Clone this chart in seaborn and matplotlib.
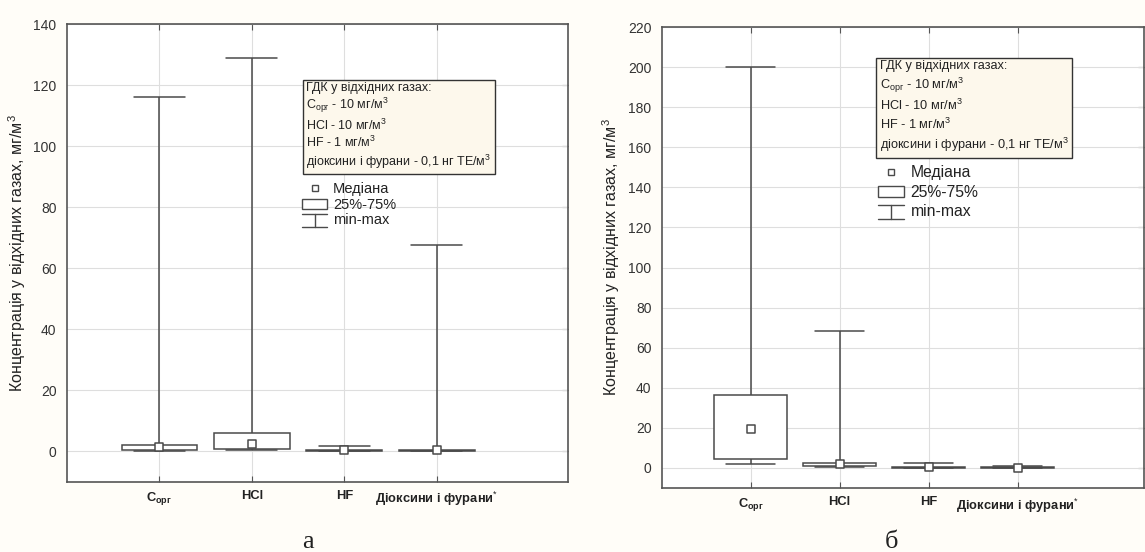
import numpy as np
import pandas as pd
import matplotlib
matplotlib.use("Agg")
import matplotlib.pyplot as plt
from matplotlib.lines import Line2D
from matplotlib.patches import Rectangle
from matplotlib.legend_handler import HandlerBase
import seaborn as sns

sns.set_style("whitegrid")
plt.rcParams['font.family'] = ['Liberation Sans', 'DejaVu Sans']
plt.rcParams['mathtext.fontset'] = 'custom'
plt.rcParams['mathtext.rm'] = 'Liberation Sans'
plt.rcParams['mathtext.it'] = 'Liberation Sans:italic'
plt.rcParams['mathtext.bf'] = 'Liberation Sans:bold'

# --- Data ---
categories = ['C_org', 'HCl', 'HF', 'Dioxins']
tick_labels = [r'$\mathbf{C}_{\mathbf{орг}}$', 'HCl', 'HF', r'Діоксини і фурани$^{*}$']

# panel а
a_min = [0.2, 0.3, 0.0, 0.05]
a_q1 = [0.6, 0.9, 0.05, 0.1]
a_med = [1.4, 2.5, 0.35, 0.35]
a_q3 = [2.1, 5.9, 0.45, 0.6]
a_max = [116, 129, 1.9, 67.6]

# panel б
b_min = [1.8, 0.3, 0.0, 0.0]
b_q1 = [4.5, 0.8, 0.1, 0.05]
b_med = [19.2, 2.2, 0.5, 0.2]
b_q3 = [36.5, 2.7, 0.55, 0.3]
b_max = [200, 68.5, 2.3, 1.1]

note_text = ('ГДК у відхідних газах:\n'
             'C$_{\\mathrm{орг}}$ - 10 мг/м$^3$\n'
             'HCl - 10 мг/м$^3$\n'
             'HF - 1 мг/м$^3$\n'
             'діоксини і фурани - 0,1 нг ТЕ/м$^3$')
ylabel = 'Концентрація у відхідних газах, мг/м$^3$'

EDGE = '#4a4a4a'


class MinMaxHandler(HandlerBase):
    # I-beam symbol for the min-max whisker entry
    def create_artists(self, legend, orig_handle, xdescent, ydescent,
                       width, height, fontsize, trans):
        x0, x1 = -xdescent, -xdescent + width
        xm = (x0 + x1) / 2
        y0, y1 = -ydescent - 0.25 * height, -ydescent + 1.05 * height
        arts = [Line2D([x0, x1], [y1, y1]), Line2D([xm, xm], [y0, y1]),
                Line2D([x0, x1], [y0, y0])]
        for a in arts:
            a.set_color(EDGE)
            a.set_linewidth(1.0)
            a.set_transform(trans)
        return arts


def draw_panel(ax, mins, q1s, meds, q3s, maxs, ymax, note_xy, leg_xy,
               note_size, note_spacing, leg_size, leg_spacing):
    rows = []
    for c, lo, q1, md, q3, hi in zip(categories, mins, q1s, meds, q3s, maxs):
        for v in (lo, q1, md, q3, hi):
            rows.append({'cat': c, 'val': v})
    df = pd.DataFrame(rows)

    sns.boxplot(data=df, x='cat', y='val', order=categories, whis=(0, 100),
                width=0.82, color='white', linecolor=EDGE, linewidth=1.1,
                fliersize=0, medianprops={'visible': False}, capwidths=0.55,
                ax=ax)
    sns.stripplot(x=categories, y=meds, order=categories, jitter=False,
                  marker='s', size=5.5, color='white', edgecolor=EDGE,
                  linewidth=1.1, zorder=5, ax=ax)

    ax.set_xlim(-1.0, 4.42)
    ax.set_ylim(-10, ymax)
    ax.set_yticks(np.arange(0, ymax + 1, 20))
    ax.set_xticks(range(len(categories)))
    ax.set_xticklabels(tick_labels, fontweight='bold', fontsize=9.3, color='#222')
    ax.set_xlabel('')
    ax.set_ylabel(ylabel, fontsize=11.5, color='#222', labelpad=4)

    ax.grid(True, color='#dedede', linewidth=0.8)
    for s in ax.spines.values():
        s.set_color('#555555')
        s.set_linewidth(1.2)
    ax.tick_params(axis='y', labelsize=10, labelcolor='#333', direction='out',
                   length=4, color='#555')
    ax.tick_params(axis='x', direction='in', top=True, bottom=True, length=4,
                   color='#555', pad=6)
    sec = ax.secondary_yaxis('right')
    sec.set_yticks(np.arange(0, ymax + 1, 20))
    sec.tick_params(direction='in', length=4, labelright=False, color='#555')
    sec.spines['right'].set_visible(False)

    ax.text(note_xy[0], note_xy[1], note_text, transform=ax.transAxes,
            ha='left', va='top', fontsize=note_size, linespacing=note_spacing,
            color='#222', family=['Liberation Sans Narrow', 'Liberation Sans'],
            bbox=dict(boxstyle='square,pad=0.3', facecolor='#fdf8ec',
                      edgecolor='#333', linewidth=1.0), zorder=6)

    handles = [Line2D([], [], marker='s', ls='none', mfc='white', mec=EDGE,
                      ms=4.5, mew=1.0),
               Rectangle((0, 0), 1, 1, facecolor='white', edgecolor=EDGE,
                         linewidth=1.0),
               'minmax']
    leg = ax.legend(handles=handles, labels=['Медіана', '25%-75%', 'min-max'],
                    handler_map={str: MinMaxHandler()},
                    loc='upper left', bbox_to_anchor=leg_xy, frameon=False,
                    fontsize=leg_size, handlelength=1.7, handletextpad=0.4,
                    labelspacing=leg_spacing, borderaxespad=0, borderpad=0)
    for t in leg.get_texts():
        t.set_color('#222')


fig = plt.figure(figsize=(11.45, 5.52), dpi=100)
fig.patch.set_facecolor('#fffdf8')
ax_a = fig.add_axes([0.0585, 0.127, 0.4375, 0.8295])
ax_b = fig.add_axes([0.578, 0.116, 0.421, 0.835])

draw_panel(ax_a, a_min, a_q1, a_med, a_q3, a_max, 140, (0.478, 0.874), (0.47, 0.655),
           9.0, 1.18, 10.5, 0.12)
draw_panel(ax_b, b_min, b_q1, b_med, b_q3, b_max, 220, (0.452, 0.928), (0.448, 0.700),
           9.2, 1.27, 11.3, 0.28)

fig.text(0.269, 0.008, 'а', ha='center', va='baseline', fontsize=19,
         family='Liberation Serif', color='#222')
fig.text(0.779, 0.008, 'б', ha='center', va='baseline', fontsize=19,
         family='Liberation Serif', color='#222')

fig.savefig('out.png', dpi=100, facecolor=fig.get_facecolor())
